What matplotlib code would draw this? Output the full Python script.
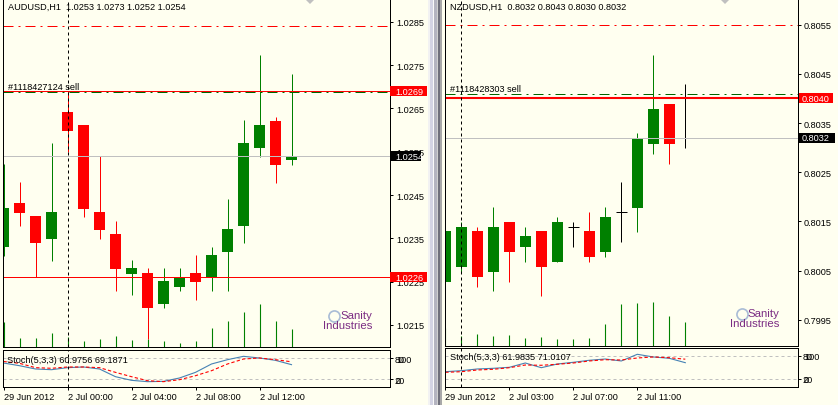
import numpy as np
import matplotlib.pyplot as plt
import matplotlib.transforms as mtransforms
from matplotlib.patches import Rectangle, Polygon
from matplotlib.lines import Line2D

plt.rcParams['font.family'] = ['Liberation Sans', 'DejaVu Sans']

# AUDUSD H1, 29 Jun 20:00 .. 2 Jul 14:00
aud_open = [1.02329, 1.02432, 1.02402, 1.02349, 1.02642, 1.02612, 1.02411, 1.02360, 1.02268, 1.02270,
            1.02199, 1.02238, 1.02270, 1.02259, 1.02319, 1.02379, 1.02559, 1.02621, 1.02530]
aud_high = [1.02522, 1.02481, 1.02402, 1.02570, 1.02691, 1.02612, 1.02541, 1.02390, 1.02300, 1.02282,
            1.02282, 1.02282, 1.02312, 1.02330, 1.02441, 1.02622, 1.02772, 1.02631, 1.02730]
aud_low = [1.02310, 1.02379, 1.02260, 1.02298, 1.02550, 1.02400, 1.02349, 1.02229, 1.02220, 1.02118,
           1.02190, 1.02229, 1.02208, 1.02229, 1.02229, 1.02340, 1.02538, 1.02478, 1.02520]
aud_close = [1.02420, 1.02409, 1.02340, 1.02411, 1.02598, 1.02418, 1.02370, 1.02280, 1.02282, 1.02190,
             1.02252, 1.02261, 1.02250, 1.02312, 1.02372, 1.02570, 1.02612, 1.02520, 1.02540]
aud_vol = [1000, 360, 360, 560, 400, 240, 320, 440, 280, 320, 240, 160, 240, 760, 1040, 1400, 1720, 1040, 720]
aud_stoch = [65.7, 58.0, 48.6, 46.6, 52.4, 54.3, 48.6, 26.6, 16.2, 12.4, 13.3, 22.9, 39.0, 62.9, 75.2, 84.8, 80.0, 73.3, 60.98]
aud_signal = [70.0, 64.8, 52.4, 50.6, 54.3, 54.3, 52.4, 39.0, 26.6, 15.2, 12.4, 18.0, 29.4, 43.7, 62.9, 77.1, 80.0, 75.2, 69.19]
aud_ticks = [1.0215, 1.0225, 1.0235, 1.0245, 1.0255, 1.0265, 1.0275, 1.0285]
aud_time_idx = [0, 4, 8, 12, 16]
aud_time_lbl = ['29 Jun 2012', '2 Jul 00:00', '2 Jul 04:00', '2 Jul 08:00', '2 Jul 12:00']

# NZDUSD H1, 29 Jun 23:00 .. 2 Jul 14:00
nzd_open = [0.80027, 0.80058, 0.80130, 0.80048, 0.80149, 0.80098, 0.80130, 0.80068,
            0.80138, 0.80130, 0.80088, 0.80169, 0.80178, 0.80308, 0.80389, 0.80320]
nzd_high = [0.80159, 0.80149, 0.80139, 0.80179, 0.80149, 0.80139, 0.80130, 0.80159,
            0.80148, 0.80169, 0.80179, 0.80231, 0.80330, 0.80488, 0.80389, 0.80430]
nzd_low = [0.79999, 0.80048, 0.80017, 0.80009, 0.80027, 0.80068, 0.79999, 0.80068,
           0.80098, 0.80068, 0.80078, 0.80109, 0.80129, 0.80288, 0.80267, 0.80300]
nzd_close = [0.80130, 0.80139, 0.80037, 0.80139, 0.80088, 0.80120, 0.80058, 0.80149,
             0.80138, 0.80078, 0.80159, 0.80169, 0.80320, 0.80379, 0.80308, 0.80320]
nzd_vol = [700, 400, 460, 380, 420, 300, 340, 260, 260, 300, 860, 1660, 1720, 1740, 1180, 940]
nzd_stoch = [38.8, 41.4, 45.8, 47.5, 50.1, 61.2, 49.1, 58.6, 63.0, 68.2, 71.5, 66.4, 83.6, 76.7, 73.3, 61.98]
nzd_signal = [37.2, 38.8, 43.2, 45.0, 49.1, 56.0, 55.3, 57.9, 61.2, 66.4, 69.7, 68.9, 74.1, 76.7, 74.8, 71.01]
nzd_ticks = [0.7995, 0.8005, 0.8015, 0.8025, 0.8035, 0.8045, 0.8055]
nzd_time_idx = [0, 4, 8, 12]
nzd_time_lbl = ['29 Jun 2012', '2 Jul 03:00', '2 Jul 07:00', '2 Jul 11:00']

W, H = 838, 406
BG = '#FFFFF0'
GREEN = '#008000'
RED = '#FF0000'
SILVER = '#C0C0C0'
FS = 6.6
LW = 0.72
DASHDOT = (10, 5, 2, 5)

fig = plt.figure(figsize=(W / 100, H / 100), dpi=100, facecolor=BG)


def fbox(x0, y0, x1, y1):
    return [x0 / W, 1 - y1 / H, (x1 - x0) / W, (y1 - y0) / H]


def ptext(x, y, s, **kw):
    kw.setdefault('fontsize', FS)
    kw.setdefault('va', 'center')
    fig.text(x / W, 1 - y / H, s, **kw)


def prect(x0, y0, x1, y1, color, z=10):
    fig.add_artist(Rectangle((x0 / W, 1 - y1 / H), (x1 - x0) / W, (y1 - y0) / H,
                             transform=fig.transFigure, color=color, lw=0, zorder=z))


def price_panel(x0, x1, y1, xlim, ylim, o, h, l, c, vol, vol_top, ticks):
    o, h, l, c = map(np.asarray, (o, h, l, c))
    idx = np.arange(len(o))
    pos = fbox(x0, 0, x1, y1)
    axv = fig.add_axes(pos, zorder=0)
    axv.vlines(idx, 0, vol, color=GREEN, lw=0.8)
    axv.set_xlim(xlim)
    axv.set_ylim(0, vol_top)
    axv.axis('off')

    ax = fig.add_axes(pos, zorder=1)
    ax.set_facecolor('none')
    cols = np.where(c > o, GREEN, np.where(c < o, RED, 'black'))
    ax.vlines(idx, l, h, colors=cols, lw=LW)
    body = c != o
    ax.bar(idx[body], np.abs(c - o)[body], bottom=np.minimum(o, c)[body], width=0.69,
           color=cols[body], lw=0)
    doji = ~body
    ax.hlines(o[doji], idx[doji] - 0.345, idx[doji] + 0.345, colors='black', lw=LW)
    ax.set_xlim(xlim)
    ax.set_ylim(ylim)
    ax.set_xticks([])
    ax.yaxis.tick_right()
    ax.set_yticks(ticks)
    ax.set_yticklabels([f'{t:.4f}' for t in ticks])
    ax.tick_params(axis='y', length=2.2, width=LW, pad=2.5, labelsize=FS)
    ax.spines['top'].set_visible(False)
    for s in ax.spines.values():
        s.set_linewidth(LW)
    return ax


def price_tag(ax, price, text, color, x0, x1, tx):
    lo, hi = ax.get_ylim()
    hpx = ax.get_position().height * H
    half = 5 * (hi - lo) / hpx
    tr = mtransforms.blended_transform_factory(fig.transFigure, ax.transData)
    fig.add_artist(Rectangle((x0 / W, price - half), (x1 - x0) / W, 2 * half,
                             transform=tr, color=color, lw=0, zorder=5))
    fig.text(tx / W, price, text, transform=tr, color='white', fontsize=FS,
             va='center', ha='left', zorder=6)


def stoch_panel(x0, x1, y0, y1, xlim, ylim, main, sig, tidx, tlbl, sep):
    ax = fig.add_axes(fbox(x0, y0, x1, y1))
    ax.set_facecolor('none')
    idx = np.arange(len(main))
    ax.axhline(80, color=SILVER, lw=LW, dashes=(3, 3))
    ax.axhline(20, color=SILVER, lw=LW, dashes=(3, 3))
    ax.plot(idx, main, color='#4682B4', lw=0.8)
    ax.plot(idx, sig, color=RED, lw=0.8, dashes=(3, 2))
    ax.axvline(sep, color='black', lw=LW, dashes=(3, 3))
    ax.set_xlim(xlim)
    ax.set_ylim(ylim)
    ax.yaxis.tick_right()
    ax.set_yticks([80, 20])
    ax.set_yticklabels(['80', '20'])
    # MT4 prints 100/80 and 20/0 on top of each other in a thin window
    tr = mtransforms.offset_copy(ax.get_yaxis_transform(), fig=fig, x=2.2 + 2.5, y=0, units='points')
    ax.text(1, 80, '100', transform=tr, ha='left', va='center_baseline', fontsize=FS, clip_on=False)
    ax.text(1, 20, '0', transform=tr, ha='left', va='center_baseline', fontsize=FS, clip_on=False)
    ax.set_xticks(tidx)
    ax.set_xticklabels(tlbl, ha='left')
    ax.tick_params(length=2.2, width=LW, pad=1.5, labelsize=FS)
    for s in ax.spines.values():
        s.set_linewidth(LW)
    return ax


# ---- left: AUDUSD ----
axL = price_panel(2.5, 389.5, 348, (-0.0625, 24.125), (1.020992, 1.029024),
                  aud_open, aud_high, aud_low, aud_close, aud_vol, 13920, aud_ticks)
axL.axhline(1.0284, color=RED, lw=LW, dashes=DASHDOT)
axL.axhline(1.0269, color=RED, lw=LW)
axL.axhline(1.02688, color='#006400', lw=LW, dashes=DASHDOT)
axL.axhline(1.0254, color=SILVER, lw=LW)
axL.axhline(1.0226, color=RED, lw=LW)
axL.axvline(4, color='black', lw=LW, dashes=(3, 3))
price_tag(axL, 1.0269, '1.0269', RED, 390, 427, 395)
price_tag(axL, 1.0254, '1.0254', 'black', 390, 421, 395)
price_tag(axL, 1.0226, '1.0226', RED, 390, 427, 395)
stoch_panel(2.5, 389.5, 351, 388.3, (-0.0625, 24.125), (-3.71, 102.86),
            aud_stoch, aud_signal, aud_time_idx, aud_time_lbl, 4)

# ---- right: NZDUSD ----
axR = price_panel(444.5, 797.5, 346.5, (-0.05, 22.0125), (0.798975, 0.806023),
                  nzd_open, nzd_high, nzd_low, nzd_close, nzd_vol, 13860, nzd_ticks)
axR.axhline(0.8055, color=RED, lw=LW, dashes=DASHDOT)
axR.axhline(0.8041, color='#006400', lw=LW, dashes=DASHDOT)
axR.axhline(0.8040, color=RED, lw=1.5)
axR.axhline(0.8032, color=SILVER, lw=LW)
axR.axvline(1, color='black', lw=LW, dashes=(3, 3))
price_tag(axR, 0.8040, '0.8040', RED, 798.5, 833, 802)
price_tag(axR, 0.8032, '0.8032', 'black', 798.5, 835, 802)
stoch_panel(444.5, 797.5, 349, 388.3, (-0.05, 22.0125), (-1.37, 99.8),
            nzd_stoch, nzd_signal, nzd_time_idx, nzd_time_lbl, 1)

# texts
ptext(8.3, 7.5, 'AUDUSD,H1  1.0253 1.0273 1.0252 1.0254')
ptext(449.7, 7.5, 'NZDUSD,H1  0.8032 0.8043 0.8030 0.8032')
ptext(8.3, 87, '#1118427124 sell')
ptext(450.3, 89.5, '#1118428303 sell')
ptext(7.3, 360.3, 'Stoch(5,3,3) 60.9756 69.1871')
ptext(449.7, 358, 'Stoch(5,3,3) 61.9835 71.0107')

# watermark logos
for lx, ly in [(372, 316), (779.5, 314)]:
    ptext(lx, ly, 'Sanity', ha='right', fontsize=8.2, color='#7B2C83')
    ptext(lx, ly + 10, 'Industries', ha='right', fontsize=8.2, color='#7B2C83')
    fig.add_artist(Line2D([(lx - 38) / W], [1 - (ly + 1) / H], marker='o', ms=8, mfc='none',
                          mec='#A9BCD6', mew=1.2, transform=fig.transFigure))

# chart-shift triangles
for tx in [310, 725]:
    fig.add_artist(Polygon([[(tx - 5) / W, 1], [(tx + 5) / W, 1], [tx / W, 1 - 5 / H]],
                           closed=True, transform=fig.transFigure, color=SILVER, lw=0, zorder=4))

# splitter between the two charts
prect(427.5, 0, 430, H, '#F2F2F2')
prect(430, 0, 433, H, '#D4D4E4')
prect(433, 0, 434, H, '#FAFAFA')
prect(434, 0, 436.5, H, '#B4B4C0')
prect(436.5, 0, 437.5, H, '#D0D0D0')
prect(437.5, 0, 440, H, '#70707C')
prect(440, 0, 441.5, H, '#A8A8A8')

fig.savefig('out.png', dpi=100, facecolor=BG)
